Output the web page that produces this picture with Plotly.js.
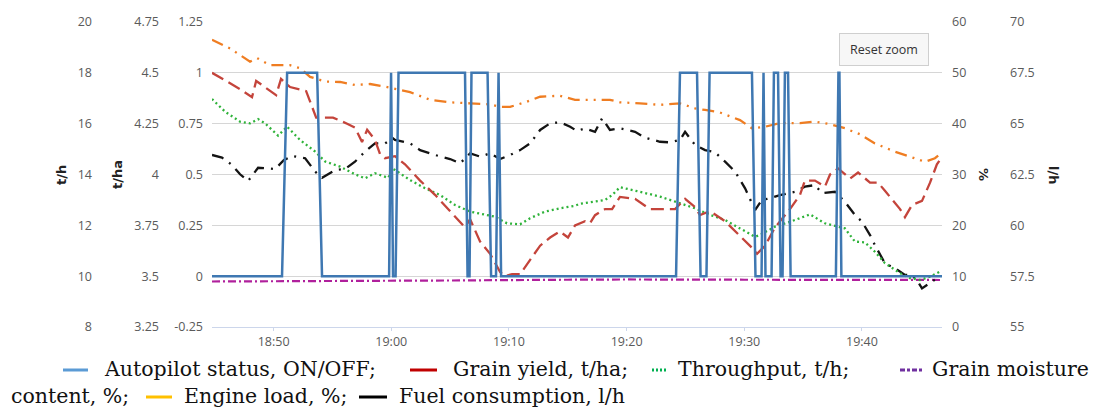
<!DOCTYPE html>
<html>
<head>
<meta charset="utf-8">
<script src="https://cdn.plot.ly/plotly-3.0.1.min.js"></script>
<style>html,body{margin:0;padding:0;background:#fff;}#chart{width:1099px;height:412px;}</style>
</head>
<body>
<div id="chart"></div>
<script>
// ---- Data ----
const DAY = '2024-09-01 ';
const xStart = '18:44:46';
const xEnd = '19:46:48';
const xTickLabels = ['18:50', '19:00', '19:10', '19:20', '19:30', '19:40'];

// Autopilot status, ON/OFF (0/1)
const autopilotTime = ['18:44:46','18:50:43','18:51:09','18:53:42','18:54:07','18:59:49','18:59:59','19:00:09','19:00:22','19:00:37',
  '19:06:16','19:06:29','19:06:39','19:06:49','19:08:11','19:08:29','19:08:54','19:09:07','19:09:20','19:24:12',
  '19:24:32','19:25:59','19:26:17','19:26:47','19:27:03','19:30:39','19:30:57','19:31:28','19:31:38','19:31:48',
  '19:32:19','19:32:31','19:32:52','19:33:05','19:33:15','19:33:27','19:33:43','19:33:56','19:37:47','19:38:00',
  '19:38:05','19:38:15','19:46:48'];
const autopilotValue = [0,0,1,1,0,0,1,0,0,1,
  1,0,0,1,1,0,0,1,0,0,
  1,1,0,0,1,1,0,0,1,0,
  0,1,1,0,0,1,1,0,0,1,
  1,0,0];

// Grain yield, t/ha
const yieldTime = ['18:44:46','18:47:09','18:48:10','18:48:31','18:49:01','18:50:13','18:50:38','18:51:24','18:52:46','18:53:37',
  '18:54:23','18:55:03','18:56:15','18:56:55','18:57:31','18:57:57','18:58:37','18:59:03','18:59:28','19:00:19',
  '19:01:10','19:02:27','19:03:43','19:05:00','19:06:16','19:06:42','19:07:33','19:08:24','19:09:15','19:09:40',
  '19:10:16','19:10:57','19:11:48','19:12:39','19:13:30','19:14:20','19:15:01','19:15:37','19:16:28','19:16:53',
  '19:17:19','19:18:10','19:18:46','19:19:26','19:20:43','19:21:59','19:22:50','19:24:07','19:24:58','19:25:49',
  '19:26:14','19:27:05','19:28:22','19:29:38','19:30:39','19:31:05','19:31:46','19:32:37','19:33:53','19:34:44',
  '19:35:09','19:36:00','19:36:51','19:37:17','19:37:58','19:38:59','19:39:40','19:40:41','19:41:22','19:41:57',
  '19:43:14','19:43:39','19:44:15','19:45:06','19:45:47','19:46:22','19:46:43'];
const yieldValue = [4.50,4.42,4.38,4.46,4.44,4.39,4.47,4.43,4.41,4.28,
  4.28,4.28,4.25,4.23,4.16,4.22,4.17,4.10,4.08,4.09,
  4.05,3.97,3.90,3.82,3.74,3.78,3.67,3.61,3.52,3.50,
  3.51,3.51,3.58,3.65,3.69,3.72,3.69,3.75,3.77,3.76,
  3.80,3.83,3.83,3.89,3.88,3.83,3.83,3.83,3.88,3.84,
  3.80,3.82,3.77,3.70,3.64,3.61,3.65,3.74,3.83,3.90,
  3.97,3.97,3.94,4.00,4.03,3.98,4.01,3.96,3.96,3.92,
  3.83,3.79,3.85,3.87,3.96,4.05,4.08];

// Throughput, t/h
const throughputTime = ['18:44:46','18:45:53','18:47:09','18:48:00','18:48:41','18:49:17','18:50:23','18:51:09','18:52:15','18:53:32',
  '18:54:23','18:55:39','18:56:55','18:57:46','18:58:37','18:59:03','18:59:44','19:00:09','19:00:19','19:01:36',
  '19:02:52','19:04:09','19:05:25','19:06:42','19:07:58','19:08:49','19:09:50','19:10:57','19:11:48','19:13:04',
  '19:14:20','19:15:37','19:16:02','19:17:19','19:18:10','19:18:46','19:19:26','19:21:08','19:22:50','19:24:32',
  '19:25:49','19:27:05','19:28:22','19:29:38','19:30:55','19:31:20','19:32:37','19:33:53','19:34:44','19:35:35',
  '19:36:51','19:37:42','19:38:33','19:39:24','19:40:15','19:41:06','19:41:57','19:43:14','19:44:05','19:44:56',
  '19:45:47','19:46:38'];
const throughputValue = [16.97,16.47,16.08,16.01,16.18,16.01,15.53,15.88,15.36,14.90,
  14.51,14.31,14.01,13.85,14.05,13.98,13.87,14.22,14.18,13.78,
  13.46,13.19,12.80,12.54,12.41,12.34,12.08,12.04,12.28,12.54,
  12.67,12.77,12.85,12.93,13.00,13.19,13.50,13.32,13.13,12.87,
  12.67,12.41,12.21,11.88,11.55,11.62,11.95,12.14,12.30,12.43,
  12.08,11.99,11.88,11.36,11.33,10.96,10.51,10.12,9.92,9.85,
  9.98,10.18];

// Grain moisture content, %
const moistureTime = ['18:44:46','18:55:00','19:05:00','19:15:00','19:20:00','19:30:00','19:40:00','19:46:48'];
const moistureValue = [8.95,9.0,9.15,9.3,9.35,9.3,9.25,9.25];

// Engine load, %
const engineTime = ['18:44:46','18:46:18','18:48:00','18:48:36','18:49:42','18:51:24','18:52:15','18:53:06','18:54:23','18:55:39',
  '18:56:55','18:58:12','18:59:28','19:01:36','19:03:18','19:05:00','19:06:42','19:08:24','19:09:15','19:10:06',
  '19:11:22','19:12:39','19:14:20','19:15:37','19:18:35','19:19:26','19:21:08','19:22:50','19:24:32','19:25:49',
  '19:26:40','19:27:56','19:29:38','19:30:39','19:31:46','19:33:02','19:34:44','19:36:00','19:37:17','19:38:33',
  '19:39:50','19:41:06','19:42:48','19:44:30','19:45:21','19:46:12','19:46:43'];
const engineValue = [56.5,54.8,52.2,52.9,51.5,51.5,50.9,49.2,48.3,48.2,
  47.6,47.8,47.3,46.2,44.7,44.2,44.0,43.8,43.3,43.3,
  44.2,45.3,45.5,44.7,44.7,44.2,44.0,43.7,44.0,43.0,
  42.7,42.2,40.7,39.1,39.4,40.1,40.1,40.4,39.9,39.1,
  37.9,36.1,34.5,33.2,32.5,33.2,34.2];

// Fuel consumption, l/h
const fuelTime = ['18:44:46','18:45:37','18:46:28','18:47:09','18:47:50','18:48:41','18:49:32','18:50:08','18:50:53','18:51:34',
  '18:52:41','18:53:32','18:54:07','18:55:14','18:56:05','18:56:55','18:57:46','18:58:37','18:59:28','19:00:09',
  '19:00:19','19:01:36','19:02:27','19:03:43','19:05:00','19:05:51','19:06:42','19:07:33','19:08:24','19:09:15',
  '19:10:06','19:10:57','19:11:48','19:12:39','19:13:30','19:14:20','19:15:12','19:15:47','19:16:28','19:16:53',
  '19:17:19','19:17:55','19:18:35','19:19:26','19:20:43','19:21:34','19:22:50','19:23:41','19:24:32','19:24:58',
  '19:25:49','19:26:40','19:27:31','19:28:22','19:29:13','19:30:04','19:30:55','19:31:30','19:32:11','19:33:02',
  '19:34:18','19:35:09','19:36:00','19:36:36','19:37:42','19:38:33','19:39:24','19:40:00','19:40:41','19:41:06',
  '19:41:57','19:42:48','19:43:39','19:44:15','19:44:45','19:45:06','19:45:47','19:46:22','19:46:43'];
const fuelValue = [63.46,63.33,62.97,62.51,62.18,62.83,62.80,62.77,63.21,63.41,
  63.30,62.64,62.34,62.72,62.77,63.13,63.62,64.03,64.03,64.28,
  64.20,64.03,63.70,63.46,63.26,63.05,63.54,63.38,63.54,63.26,
  63.46,63.70,64.03,64.69,65.02,65.07,64.85,64.64,64.77,64.69,
  64.60,65.26,64.69,64.77,64.60,64.31,64.11,64.08,64.20,64.60,
  63.95,63.70,63.59,63.13,62.64,61.82,60.75,61.25,61.33,61.49,
  61.65,61.90,61.98,61.58,61.65,61.16,60.51,60.18,59.52,59.03,
  58.13,57.89,57.56,57.56,57.23,56.90,57.15,57.39,57.47];

// Axis tick labels
const pctTicks = [0,10,20,30,40,50,60];
const lhTicks = [55,57.5,60,62.5,65,67.5,70];
const lhTickText = ['55','57.5','60','62.5','65','67.5','70'];
const thTicks = [8,10,12,14,16,18,20];
const thaTicks = [3.25,3.5,3.75,4,4.25,4.5,4.75];
const thaTickText = ['3.25','3.5','3.75','4','4.25','4.5','4.75'];
const apTicks = [-0.25,0,0.25,0.5,0.75,1,1.25];
const apTickText = ['-0.25','0','0.25','0.5','0.75','1','1.25'];

// Legend (caption) texts
const legendLine1 = ['Autopilot status, ON/OFF;', 'Grain yield, t/ha;', 'Throughput, t/h;', 'Grain moisture'];
const legendLine2 = ['content, %;', 'Engine load, %;', 'Fuel consumption, l/h'];

// ---- Build chart ----
const T = a => a.map(s => DAY + s);
const W = 1099, H = 412;
const px = x => x / W;          // helper for paper positions
const py = y => 1 - y / H;

const tickFont = {family: 'Open Sans, DejaVu Sans, sans-serif', size: 12.5, color: '#5a5a5a'};

const traces = [
  {x: T(moistureTime), y: moistureValue, yaxis: 'y', type: 'scatter', mode: 'lines', name: 'Grain moisture content, %',
   line: {color: '#b0209c', width: 2.2, dash: '8px,3px,2px,3px'}},
  {x: T(engineTime), y: engineValue, yaxis: 'y', type: 'scatter', mode: 'lines', name: 'Engine load, %',
   line: {color: '#ef7d22', width: 2.3, dash: '12px,6px,2px,6px,2px,6px'}},
  {x: T(fuelTime), y: fuelValue, yaxis: 'y2', type: 'scatter', mode: 'lines', name: 'Fuel consumption, l/h',
   line: {color: '#141414', width: 2.3, dash: '12px,7px,2px,7px'}},
  {x: T(throughputTime), y: throughputValue, yaxis: 'y3', type: 'scatter', mode: 'lines', name: 'Throughput, t/h',
   line: {color: '#2fb33a', width: 2.3, dash: '2px,3px'}},
  {x: T(yieldTime), y: yieldValue, yaxis: 'y4', type: 'scatter', mode: 'lines', name: 'Grain yield, t/ha',
   line: {color: '#c4443b', width: 2.3, dash: '13px,6px'}},
  {x: T(autopilotTime), y: autopilotValue, yaxis: 'y5', type: 'scatter', mode: 'lines', name: 'Autopilot status, ON/OFF',
   line: {color: '#3f78b2', width: 2.5}}
];

const domY = [py(327), py(22)];
const layout = {
  width: W, height: H,
  margin: {l: 0, r: 0, t: 0, b: 0, pad: 0},
  paper_bgcolor: '#ffffff', plot_bgcolor: '#ffffff',
  showlegend: false,
  xaxis: {
    domain: [px(212), px(942)], type: 'date',
    range: [DAY + xStart, DAY + xEnd],
    tickvals: T(xTickLabels.map(s => s + ':00')), ticktext: xTickLabels,
    showgrid: false, zeroline: false,
    showline: true, linecolor: '#ccd6eb', linewidth: 1,
    ticks: 'outside', ticklen: 3, tickcolor: '#ccd6eb',
    tickfont: tickFont
  },
  yaxis: {  // %
    domain: domY, range: [0, 60], side: 'right', anchor: 'x',
    tickvals: pctTicks, ticktext: pctTicks.map(String),
    showgrid: true, gridcolor: '#d6d6d6', gridwidth: 1, zeroline: false,
    showline: false, ticks: '', ticklabelstandoff: 9, tickfont: tickFont
  },
  yaxis2: {  // l/h
    overlaying: 'y', range: [55, 70], side: 'right', anchor: 'free', position: px(1006),
    tickvals: lhTicks, ticktext: lhTickText, showgrid: false, zeroline: false,
    showline: false, ticks: '', ticklabelstandoff: 3, tickfont: tickFont
  },
  yaxis3: {  // t/h
    overlaying: 'y', range: [8, 20], side: 'left', anchor: 'free', position: px(94),
    tickvals: thTicks, ticktext: thTicks.map(String), showgrid: false, zeroline: false,
    showline: false, ticks: '', ticklabelstandoff: 2, tickfont: tickFont
  },
  yaxis4: {  // t/ha
    overlaying: 'y', range: [3.25, 4.75], side: 'left', anchor: 'free', position: px(161),
    tickvals: thaTicks, ticktext: thaTickText, showgrid: false, zeroline: false,
    showline: false, ticks: '', ticklabelstandoff: 2, tickfont: tickFont
  },
  yaxis5: {  // autopilot
    overlaying: 'y', range: [-0.25, 1.25], side: 'left', anchor: 'x',
    tickvals: apTicks, ticktext: apTickText, showgrid: false, zeroline: false,
    showline: false, ticks: '', ticklabelstandoff: 8, tickfont: tickFont
  },
  annotations: [],
  shapes: []
};

const titleFont = {family: 'DejaVu Sans, sans-serif', size: 13, color: '#222', weight: 'bold'};
function addTitle(text, x, y, angle) {
  layout.annotations.push({text: '<b>' + text + '</b>', x: px(x), y: py(y), xref: 'paper', yref: 'paper',
    xanchor: 'center', yanchor: 'middle', showarrow: false, textangle: angle, font: titleFont});
}
addTitle('t/h', 62, 175, -90);
addTitle('t/ha', 118, 175, -90);
addTitle('%', 984, 174, 90);
addTitle('l/h', 1053, 175, 90);

// Reset zoom button
layout.annotations.push({text: 'Reset zoom', x: px(883.5), y: py(50), xref: 'paper', yref: 'paper',
  xanchor: 'center', yanchor: 'middle', showarrow: false,
  font: {family: 'Open Sans, sans-serif', size: 12.5, color: '#333'},
  bgcolor: '#f7f7f7', bordercolor: '#cfcfcf', borderwidth: 1, borderpad: 7, width: 74});

// Caption-style legend
const legFont = {family: 'DejaVu Serif, serif', size: 20.5, color: '#111'};
const line1X = [102, 451, 676, 930];
const line2X = [9, 182, 397];
legendLine1.forEach((t, i) => layout.annotations.push({text: t, x: px(line1X[i]), y: py(369), xref: 'paper', yref: 'paper',
  xanchor: 'left', yanchor: 'middle', showarrow: false, font: legFont}));
legendLine2.forEach((t, i) => layout.annotations.push({text: t, x: px(line2X[i]), y: py(396), xref: 'paper', yref: 'paper',
  xanchor: 'left', yanchor: 'middle', showarrow: false, font: legFont}));

function keyLine(x0, x1, y, color, dash) {
  layout.shapes.push({type: 'line', xref: 'paper', yref: 'paper', x0: px(x0), x1: px(x1), y0: py(y), y1: py(y),
    line: {color: color, width: 3, dash: dash || 'solid'}});
}
keyLine(63, 88, 370, '#5b9bd5');
keyLine(410, 437, 370, '#c00000');
keyLine(652, 667, 370, '#00b050', '2px,2px');
keyLine(900, 924, 370, '#7030a0', '5px,2px,3px,2px');
keyLine(146, 172, 397, '#ffc000');
keyLine(359, 387, 397, '#000000');

Plotly.newPlot('chart', traces, layout, {displayModeBar: false, responsive: false});
</script>
</body>
</html>
